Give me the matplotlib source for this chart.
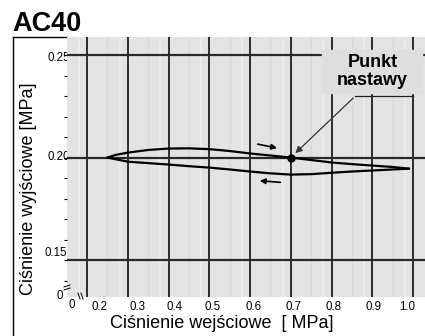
import matplotlib
matplotlib.use("Agg")
import matplotlib.pyplot as plt
from matplotlib.lines import Line2D

plt.rcParams['font.family'] = ['Liberation Sans', 'DejaVu Sans']

# data
upper_x = [0.25, 0.27, 0.30, 0.35, 0.40, 0.45, 0.50, 0.55, 0.60, 0.65, 0.70, 0.75, 0.80, 0.85, 0.90, 0.95, 0.99]
upper_y = [0.2000, 0.2013, 0.2024, 0.2037, 0.2044, 0.2045, 0.2041, 0.2032, 0.2020, 0.2010, 0.2000, 0.1988, 0.1976, 0.1968, 0.1961, 0.1954, 0.1946]
lower_x = [0.25, 0.30, 0.35, 0.40, 0.45, 0.50, 0.55, 0.60, 0.65, 0.70, 0.75, 0.80, 0.85, 0.90, 0.95, 0.99]
lower_y = [0.2000, 0.1980, 0.1973, 0.1966, 0.1958, 0.1951, 0.1942, 0.1932, 0.1923, 0.1917, 0.1919, 0.1926, 0.1932, 0.1937, 0.1942, 0.1946]
set_point = (0.70, 0.20)
x_ticks = [0.2, 0.3, 0.4, 0.5, 0.6, 0.7, 0.8, 0.9, 1.0]
x_tick_labels = ['0.2', '0.3', '0.4', '0.5', '0.6', '0.7', '0.8', '0.9', '1.0']
y_grid = [0.15, 0.20, 0.25]
y_tick_labels = ['0.15', '0.20', '0.25']

W, H = 425, 336
fig = plt.figure(figsize=(W / 100, H / 100), dpi=100)

def fx(px):
    return px / W

def fy(py):
    return 1 - py / H

ax = fig.add_axes([fx(67), fy(297), fx(425) - fx(67), fy(37) - fy(297)])
ax.set_facecolor('#e3e3e3')
ax.set_xlim(0.151, 1.029)
ax.set_ylim(0.132, 0.2588)
for s in ax.spines.values():
    s.set_visible(False)

# faint texture lines of the scan
for xv in [0.25, 0.35, 0.45, 0.55, 0.65, 0.75, 0.85, 0.95]:
    ax.axvline(xv, color='#d9d9d9', lw=1.0, zorder=1)
for xv in [0.18, 0.28, 0.38, 0.48, 0.58, 0.68, 0.78, 0.88, 0.98]:
    ax.axvline(xv, color='#ebebeb', lw=1.5, zorder=1)

# grid
for xv in x_ticks:
    ax.axvline(xv, color='#1e1e1e', lw=1.3, zorder=2)
for yv in y_grid:
    ax.axhline(yv, color='#2a2a2a', lw=1.6, zorder=2)

ax.set_xticks([])
ax.set_yticks([0.14 + 0.01 * i for i in range(12)])
ax.set_yticklabels([])
ax.tick_params(axis='y', length=2.5, width=0.8, color='black', direction='out')

# curves
ax.plot(upper_x, upper_y, color='black', lw=1.6, zorder=4, solid_capstyle='round')
ax.plot(lower_x, lower_y, color='black', lw=1.6, zorder=4, solid_capstyle='round')
ax.plot([set_point[0]], [set_point[1]], 'o', color='black', ms=5, zorder=5)

# direction arrows
ax.annotate('', xy=(0.673, 0.2044), xytext=(0.612, 0.2068),
            arrowprops=dict(arrowstyle='-|>', color='black', lw=1.2, mutation_scale=8), zorder=5)
ax.annotate('', xy=(0.617, 0.1888), xytext=(0.681, 0.1878),
            arrowprops=dict(arrowstyle='-|>', color='black', lw=1.2, mutation_scale=8), zorder=5)

# callout box
ax.fill_between([0.777, 1.022], 0.2315, 0.2524, color='#dedede', zorder=3)
ax.plot([0.858, 0.999], [0.2300, 0.2300], color='#222222', lw=0.9, zorder=4)
ax.text(0.90, 0.2466, 'Punkt', ha='center', va='center', fontsize=13, fontweight='bold', zorder=6)
ax.text(0.90, 0.2378, 'nastawy', ha='center', va='center', fontsize=13, fontweight='bold', zorder=6)
ax.annotate('', xy=(0.706, 0.2012), xytext=(0.858, 0.2300),
            arrowprops=dict(arrowstyle='-|>', color='#333333', lw=0.9, mutation_scale=10), zorder=5)

# tick labels (placed as in the scan, partly hidden under the plot area)
x_label_px = [100, 137, 175, 213, 254, 294, 334, 373, 407]
for px, lab in zip(x_label_px, x_tick_labels):
    fig.text(fx(px), fy(307), lab, ha='center', va='center', fontsize=8.3)
fig.text(fx(72), fy(305), '0', ha='center', va='center', fontsize=8.3)
fig.text(fx(63), fy(296), '0', ha='right', va='center', fontsize=8.3, zorder=-1)
y_label_pos = [(67, 253), (70, 157), (70, 58)]
for (px, py), lab in zip(y_label_pos, y_tick_labels):
    fig.text(fx(px), fy(py), lab, ha='right', va='center', fontsize=8.3, zorder=-1)

# broken axis marks
fig.add_artist(Line2D([fx(64), fx(70)], [fy(287), fy(285)], color='black', lw=0.7))
fig.add_artist(Line2D([fx(64), fx(70)], [fy(290), fy(288)], color='black', lw=0.7))
fig.add_artist(Line2D([fx(78), fx(80)], [fy(293), fy(299)], color='black', lw=0.7))
fig.add_artist(Line2D([fx(81), fx(83)], [fy(293), fy(299)], color='black', lw=0.7))

# axis labels
fig.text(fx(222), fy(324), 'Ciśnienie wejściowe  [ MPa]', ha='center', va='center', fontsize=13)
fig.text(fx(29), fy(189), 'Ciśnienie wyjściowe [MPa]', ha='center', va='center', fontsize=13, rotation=90)

# title and frame
fig.text(fx(12), fy(24), 'AC40', ha='left', va='center', fontsize=19.5, fontweight='bold')
fig.add_artist(Line2D([fx(13), fx(13)], [fy(37), 0], color='black', lw=1.0, zorder=-2))
fig.add_artist(Line2D([fx(13), fx(67)], [fy(37), fy(37)], color='black', lw=1.0, zorder=-2))

fig.savefig('out.png', dpi=100)
